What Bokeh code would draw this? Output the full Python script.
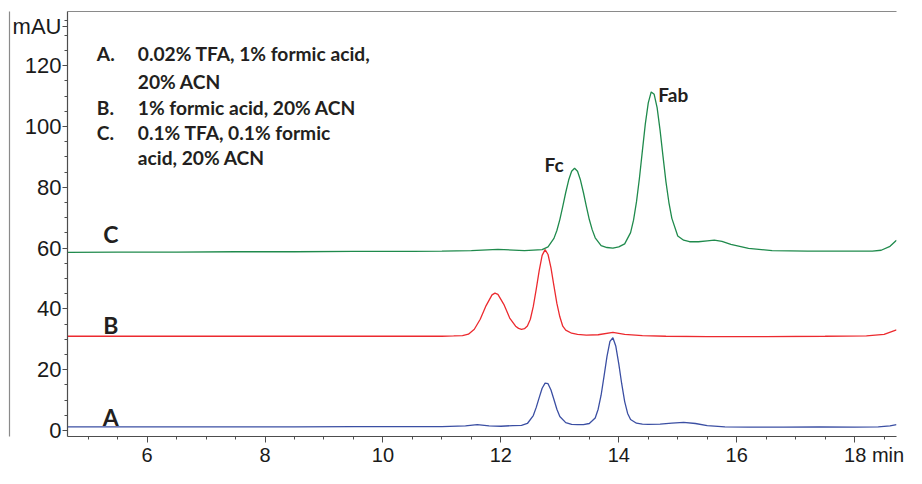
from bokeh.plotting import figure
from bokeh.models import Range1d, FixedTicker, LinearAxis
from bokeh.core.properties import value
from bokeh.embed import file_html
from bokeh.resources import INLINE

# ---------------- data ----------------
t_A = [4.65, 5.5, 6.5, 7.5, 8.5, 9.5, 10.5, 11.0, 11.4, 11.6, 11.8, 12.0, 12.2, 12.35, 12.45,
       12.55, 12.6, 12.65, 12.7, 12.75, 12.8, 12.85, 12.9, 12.95, 13.0, 13.1, 13.2, 13.3, 13.4, 13.5,
       13.6, 13.65, 13.7, 13.75, 13.8, 13.85, 13.9, 13.95, 14.0, 14.05, 14.1, 14.15, 14.2, 14.3, 14.4,
       14.5, 14.7, 14.9, 15.1, 15.3, 15.5, 15.8, 16.2, 16.8, 17.4, 18.0, 18.4, 18.6, 18.71]
mAU_A = [1.2, 1.2, 1.2, 1.2, 1.2, 1.3, 1.3, 1.3, 1.5, 1.9, 1.5, 1.4, 1.6, 1.7, 2.3,
         4.9, 7.6, 10.8, 13.9, 15.6, 15.4, 13.3, 10.2, 7.0, 4.6, 2.6, 2.0, 1.9, 1.9, 2.3,
         4.1, 7.0, 11.6, 17.9, 24.4, 29.3, 30.5, 27.7, 21.9, 15.3, 9.5, 5.6, 3.6, 2.4, 2.1,
         2.0, 2.1, 2.4, 2.7, 2.3, 1.6, 1.2, 1.1, 1.1, 1.2, 1.1, 1.2, 1.5, 1.9]

t_B = [4.65, 5.5, 6.5, 7.5, 8.5, 9.5, 10.5, 11.0, 11.2, 11.35, 11.45, 11.55, 11.65, 11.75, 11.85,
       11.9, 11.95, 12.05, 12.15, 12.25, 12.3, 12.35, 12.4, 12.45, 12.5, 12.55, 12.6, 12.65, 12.7,
       12.75, 12.8, 12.85, 12.9, 12.95, 13.0, 13.05, 13.1, 13.2, 13.3, 13.45, 13.65, 13.9, 14.1,
       14.4, 14.8, 15.5, 16.5, 17.5, 18.2, 18.5, 18.71]
mAU_B = [31.0, 31.0, 31.0, 31.0, 31.0, 31.0, 31.0, 31.0, 31.1, 31.2, 31.7, 33.3, 36.6, 41.1, 44.6,
         45.2, 44.8, 41.5, 37.0, 34.3, 33.6, 33.3, 33.5, 34.4, 36.6, 40.8, 46.5, 52.6, 57.6,
         59.5, 57.9, 53.5, 47.6, 41.8, 37.4, 34.3, 33.0, 32.0, 31.6, 31.4, 31.5, 32.3, 31.6,
         31.2, 31.0, 30.9, 30.9, 31.0, 31.1, 31.6, 33.1]

t_C = [4.65, 5.5, 6.5, 7.5, 8.5, 9.5, 10.5, 11.0, 11.5, 11.95, 12.4, 12.7, 12.8, 12.9, 12.95,
       13.0, 13.05, 13.1, 13.15, 13.2, 13.25, 13.3, 13.35, 13.4, 13.45, 13.5, 13.55, 13.6, 13.7,
       13.8, 13.9, 14.0, 14.1, 14.2, 14.25, 14.3, 14.35, 14.4, 14.45, 14.5, 14.55, 14.6, 14.65,
       14.7, 14.75, 14.8, 14.85, 14.9, 15.0, 15.1, 15.2, 15.35, 15.5, 15.62, 15.75, 15.9, 16.2,
       16.6, 17.2, 17.8, 18.3, 18.45, 18.6, 18.71]
mAU_C = [58.6, 58.7, 58.7, 58.8, 58.8, 58.9, 58.9, 59.0, 59.2, 59.6, 59.2, 59.5, 60.4, 63.2, 65.8,
         69.4, 73.7, 78.3, 82.4, 85.3, 86.3, 85.3, 82.4, 78.3, 73.7, 69.4, 66.0, 63.4, 60.8,
         60.2, 60.0, 60.4, 61.4, 65.1, 69.2, 75.2, 83.0, 92.0, 100.9, 107.8, 111.4, 110.6, 106.2,
         98.8, 90.2, 81.8, 75.0, 69.8, 64.0, 62.6, 62.1, 62.1, 62.4, 62.6, 62.2, 61.2, 59.9,
         59.2, 59.0, 59.0, 59.0, 59.3, 60.6, 62.6]

x_ticks = [6, 8, 10, 12, 14, 16, 18]
x_minor_ticks = [5.0, 5.5, 6.5, 7.0, 7.5, 8.5, 9.0, 9.5, 10.5, 11.0, 11.5, 12.5, 13.0, 13.5,
                 14.5, 15.0, 15.5, 16.5, 17.0, 17.5, 18.5]
y_ticks = [0, 20, 40, 60, 80, 100, 120]
y_minor_ticks = [5, 10, 15, 25, 30, 35, 45, 50, 55, 65, 70, 75, 85, 90, 95, 105, 110, 115,
                 125, 130, 135]

trace_names = ["A", "B", "C"]
legend_keys = ["A.", "", "B.", "C.", ""]
legend_lines = ["0.02% TFA, 1% formic acid,", "20% ACN", "1% formic acid, 20% ACN",
                "0.1% TFA, 0.1% formic", "acid, 20% ACN"]
peak_names = ["Fc", "Fab"]
y_unit = "mAU"
x_unit = "min"

# ---------------- figure ----------------
TXT = "#231f20"
AX = "#4d4d4d"
FRAME = "#8a8a8a"
p = figure(width=906, height=468, x_range=Range1d(4.65, 18.71), y_range=Range1d(-1.98, 137.85),
           output_backend="svg", toolbar_location=None,
           min_border_left=67, min_border_right=10, min_border_top=11, min_border_bottom=30)
p.grid.visible = False
p.outline_line_color = None

for ax in (p.xaxis[0], p.yaxis[0]):
    ax.axis_line_color = AX
    ax.axis_line_width = 1.2
    ax.major_tick_line_color = AX
    ax.minor_tick_line_color = AX
    ax.major_tick_in = 0
    ax.minor_tick_in = 0
    ax.major_label_text_color = "#1a1a1a"
    ax.major_label_text_font = "Liberation Sans"

# x axis: unit written next to the last tick label (figure spaces keep "18" on its tick)
pad = "\u2007\u2007\u2007\u00a0"
xa = p.xaxis[0]
xa.ticker = FixedTicker(ticks=x_ticks, minor_ticks=x_minor_ticks)
xa.major_label_overrides = {x_ticks[-1]: pad + str(x_ticks[-1]) + " " + x_unit}
xa.major_tick_out = 6
xa.minor_tick_out = 3
xa.major_label_standoff = 1
xa.major_label_text_font_size = "20px"

# y axis: unit shown as the top label
unit_pos = 132.8
ya = p.yaxis[0]
ya.ticker = FixedTicker(ticks=y_ticks + [unit_pos], minor_ticks=y_minor_ticks)
ya.major_label_overrides = {unit_pos: y_unit}
ya.major_tick_out = 5
ya.minor_tick_out = 3
ya.major_label_standoff = 1
ya.major_label_text_font_size = "22px"

# outer gray frame lines (top and far left)
for side in ("left", "above"):
    fr = LinearAxis(ticker=FixedTicker(ticks=[]), major_tick_out=0, major_tick_in=0,
                    minor_tick_out=0, minor_tick_in=0, major_label_text_font_size="0px",
                    axis_line_color=FRAME, axis_line_width=1.2)
    p.add_layout(fr, side)

# traces
colors = {"A": "#3b4fa3", "B": "#ec2a2f", "C": "#1f8a4c"}
p.line(t_A, mAU_A, line_color=colors["A"], line_width=1.3)
p.line(t_B, mAU_B, line_color=colors["B"], line_width=1.3)
p.line(t_C, mAU_C, line_color=colors["C"], line_width=1.3)

# trace letters
p.text(x=[5.385] * 3, y=[4.6, 34.8, 64.6], text=trace_names,
       text_font=value("Lato"), text_font_style="bold", text_font_size="23px",
       text_color=TXT, text_align="center", text_baseline="middle")

# condition legend
leg_y = [124.0, 114.7, 106.4, 98.2, 89.9]
p.text(x=[5.147] * 5, y=leg_y, text=legend_keys,
       text_font=value("Lato"), text_font_style="bold", text_font_size="19.2px",
       text_color=TXT, text_align="left", text_baseline="middle")
p.text(x=[5.842] * 5, y=leg_y, text=legend_lines,
       text_font=value("Lato"), text_font_style="bold", text_font_size="19.2px",
       text_color=TXT, text_align="left", text_baseline="middle")

# peak names
p.text(x=[12.74, 14.67], y=[87.5, 110.4], text=peak_names,
       text_font=value("Lato"), text_font_style="bold", text_font_size="19px",
       text_color=TXT, text_align="left", text_baseline="middle")

open("out.html", "w").write(file_html(p, INLINE))
